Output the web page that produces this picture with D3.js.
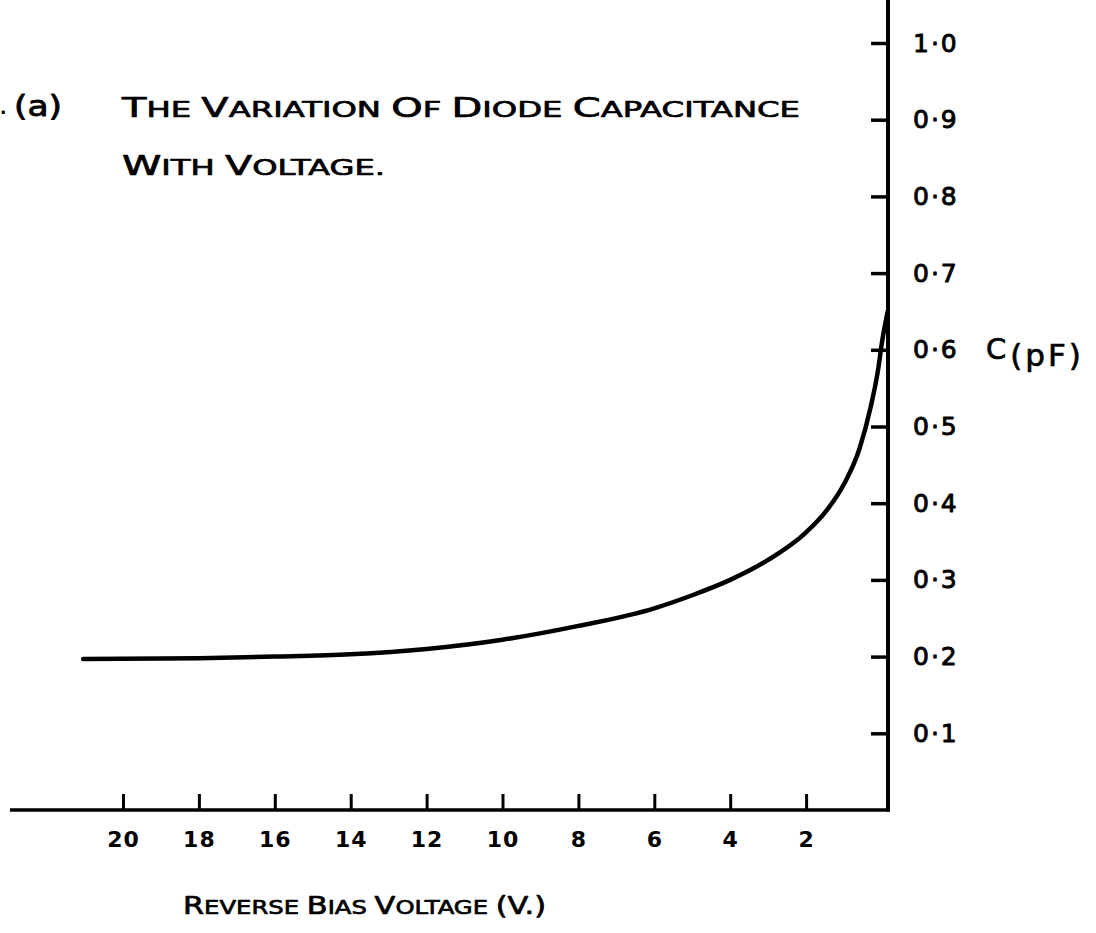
<!DOCTYPE html>
<html>
<head>
<meta charset="utf-8">
<script src="https://cdn.jsdelivr.net/npm/d3@7"></script>
<style>
  html, body { margin: 0; padding: 0; background: #fff; }
  svg { display: block; }
  text { font-family: "DejaVu Sans", sans-serif; fill: #000; stroke-linejoin: round; }
</style>
</head>
<body>
<svg id="chart" width="1096" height="933"></svg>
<script>
// Reverse bias voltage (V) and diode capacitance (pF) along the curve
const voltage = [21.05, 18, 16, 14, 12, 10, 8, 6, 5, 4, 3, 2, 1.5, 1, 0.6, 0.3, 0.1, 0, -0.15];
const capacitance = [0.197, 0.198, 0.200, 0.203, 0.210, 0.222, 0.240, 0.263, 0.280, 0.300, 0.326, 0.362, 0.388, 0.425, 0.470, 0.525, 0.575, 0.610, 0.650];

const xTickValues = [20, 18, 16, 14, 12, 10, 8, 6, 4, 2];
const yTickValues = [0.1, 0.2, 0.3, 0.4, 0.5, 0.6, 0.7, 0.8, 0.9, 1.0];
const yTickLabels = ["0·1", "0·2", "0·3", "0·4", "0·5", "0·6", "0·7", "0·8", "0·9", "1·0"];

const titleLines = ["THE VARIATION OF DIODE CAPACITANCE", "WITH VOLTAGE."];
const panelLabel = "(a)";
const xTitle = "REVERSE BIAS VOLTAGE (V.)";
const yTitle = "C";
const yUnit = "(pF)";

const svg = d3.select("#chart");

const x = d3.scaleLinear().domain([0, 20]).range([882, 123]);
const y = d3.scaleLinear().domain([0, 1]).range([810, 43]);

const axisX = 888;      // position of the vertical capacitance axis
const axisLeftEnd = 10; // left end of the voltage axis line

// Hand-lettered small capitals: first letter of each word drawn larger,
// bracketed words kept at full size
function smallCaps(sel, text, big, small) {
  text.split(" ").forEach((word, wi) => {
    if (wi > 0) sel.append("tspan").style("font-size", small + "px").text(" ");
    if (word.startsWith("(")) {
      sel.append("tspan").style("font-size", big + "px").text(word);
      return;
    }
    const first = word[0];
    const rest = word.slice(1);
    sel.append("tspan").style("font-size", big + "px").text(first);
    if (rest) sel.append("tspan").style("font-size", small + "px").text(rest);
  });
}

// Axis lines
svg.append("line")
  .attr("x1", axisX).attr("x2", axisX)
  .attr("y1", 0).attr("y2", y(0) + 1.5)
  .attr("stroke", "#000").attr("stroke-width", 4);
svg.append("line")
  .attr("x1", axisLeftEnd).attr("x2", axisX + 2)
  .attr("y1", y(0)).attr("y2", y(0))
  .attr("stroke", "#000").attr("stroke-width", 3.5);

// Voltage ticks pointing up, labels below
const gx = svg.append("g")
  .attr("transform", `translate(0,${y(0)})`)
  .call(d3.axisBottom(x).tickValues(xTickValues).tickSize(-16).tickPadding(21).tickFormat(d3.format("d")));
gx.select(".domain").remove();
gx.selectAll(".tick line").attr("stroke", "#000").attr("stroke-width", 3);
gx.selectAll(".tick text")
  .style("font-family", "'DejaVu Sans', sans-serif")
  .style("font-size", "22px").style("font-weight", "bold")
  .style("letter-spacing", "1px");

// Capacitance ticks pointing left, labels to the right
const gy = svg.append("g")
  .attr("transform", `translate(${axisX},0)`)
  .call(d3.axisRight(y).tickValues(yTickValues).tickSize(-17).tickPadding(25)
    .tickFormat((d, i) => yTickLabels[i]));
gy.select(".domain").remove();
gy.selectAll(".tick line").attr("stroke", "#000").attr("stroke-width", 3.5);
gy.selectAll(".tick text")
  .style("font-family", "'DejaVu Sans', sans-serif")
  .style("font-size", "25px").style("font-weight", "normal")
  .style("letter-spacing", "2px")
  .attr("stroke", "#000").attr("stroke-width", 0.9);

// Capacitance curve
const pts = voltage.map((v, i) => [x(v), y(capacitance[i])]);
svg.append("path")
  .datum(pts)
  .attr("fill", "none")
  .attr("stroke", "#000")
  .attr("stroke-width", 4.5)
  .attr("stroke-linecap", "round")
  .attr("d", d3.line().curve(d3.curveMonotoneX));

// Capacitance axis title
const yT = svg.append("text")
  .attr("x", 986).attr("y", 359)
  .attr("stroke", "#000").attr("stroke-width", 0.7);
yT.append("tspan").style("font-size", "29px").text(yTitle);
yT.append("tspan").attr("dx", 4).attr("dy", 7)
  .style("font-size", "31px").style("letter-spacing", "3px").text(yUnit);

// Voltage axis title
const xT = svg.append("text")
  .attr("x", 183).attr("y", 914)
  .attr("textLength", 363).attr("lengthAdjust", "spacingAndGlyphs")
  .attr("stroke", "#000").attr("stroke-width", 0.7);
smallCaps(xT, xTitle, 25, 20);

// Chart title
svg.append("text")
  .attr("x", 0).attr("y", 114)
  .style("font-size", "17px").style("font-weight", "bold")
  .text(".");
svg.append("text")
  .attr("x", 14).attr("y", 116)
  .attr("textLength", 48).attr("lengthAdjust", "spacingAndGlyphs")
  .style("font-size", "28px")
  .attr("stroke", "#000").attr("stroke-width", 0.8)
  .text(panelLabel);
titleLines.forEach((line, i) => {
  const t = svg.append("text")
    .attr("x", 122).attr("y", 117 + i * 58)
    .attr("textLength", i === 0 ? 678 : 263)
    .attr("lengthAdjust", "spacingAndGlyphs")
    .attr("stroke", "#000").attr("stroke-width", 0.7);
  smallCaps(t, line, 26, 21);
});
</script>
</body>
</html>
